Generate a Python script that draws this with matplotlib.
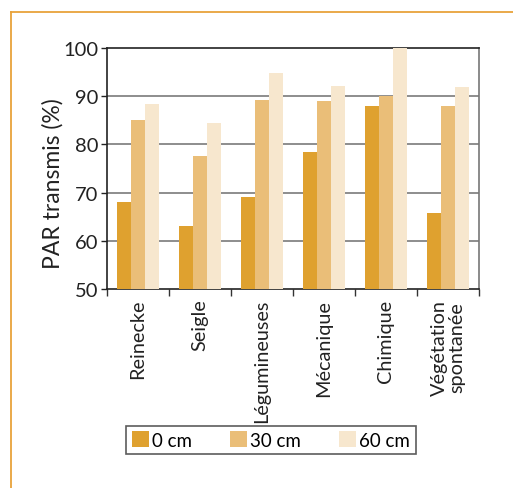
import matplotlib
matplotlib.use("Agg")
import matplotlib.pyplot as plt
import numpy as np

plt.rcParams['font.family'] = ['Lato', 'DejaVu Sans']

categories = ['Reinecke', 'Seigle', 'Légumineuses', 'Mécanique', 'Chimique', 'Végétation\nspontanée']
series_names = ['0 cm', '30 cm', '60 cm']
val_0 = [68.1, 63.1, 69.1, 78.4, 87.9, 65.8]
val_30 = [85.0, 77.5, 89.3, 89.0, 90.0, 88.0]
val_60 = [88.3, 84.4, 94.8, 92.2, 100.0, 91.9]
colors = ['#DFA12F', '#EABE78', '#F7E7CE']

fig = plt.figure(figsize=(5.13, 4.89), dpi=100)
ax = fig.add_axes([107/513, 1-290/489, (479-107)/513, (290-49)/489])

x = np.arange(len(categories))
w = 0.226
for i, (vals, name) in enumerate(zip([val_0, val_30, val_60], series_names)):
    ax.bar(x + (i-1)*w, np.array(vals) - 50, bottom=50, width=w, color=colors[i],
           label=name, zorder=3)

ax.set_ylim(50, 100)
ax.set_xlim(-0.5, len(categories)-0.5)
ax.set_yticks([50, 60, 70, 80, 90, 100])
ax.tick_params(axis='y', labelsize=14.5, colors='#222222', length=4, width=1, pad=2)
for yv in [60, 70, 80, 90]:
    ax.axhline(yv, color='#7a7a7a', lw=1.2, zorder=1)

ax.set_xticks(np.arange(len(categories)+1) - 0.5)
ax.set_xticklabels([])
ax.tick_params(axis='x', length=5, width=1, colors='#333333')
for xi, c in zip(x, categories):
    ax.text(xi, 48.0, c, rotation=90, ha='center', va='top', fontsize=14.3,
            color='#222222', multialignment='center', linespacing=1.0)

for s in ['left', 'bottom', 'top']:
    ax.spines[s].set_color('#222222')
    ax.spines[s].set_linewidth(1.2)
ax.spines['right'].set_color('#777777')
ax.spines['right'].set_linewidth(1.2)

ax.set_ylabel('PAR transmis (%)', fontsize=16.5, color='#222222')
ax.yaxis.set_label_coords(-0.118, 0.44)

leg = fig.legend(loc='center', bbox_to_anchor=(271/513, 1-441/489), ncol=3,
                 fontsize=13.5, frameon=True, fancybox=False, handlelength=0.9,
                 handleheight=0.9, handletextpad=0.2, columnspacing=2.0,
                 borderpad=0.3)
leg.get_frame().set_edgecolor('#333333')
leg.get_frame().set_linewidth(1.2)

# orange frame lines
fig.add_artist(plt.Line2D([11/513, 1], [1-13/489, 1-13/489], color='#E8A33A', lw=1.3))
fig.add_artist(plt.Line2D([11/513, 11/513], [0, 1-13/489], color='#E8A33A', lw=1.3))

fig.savefig('out.png', dpi=100)
